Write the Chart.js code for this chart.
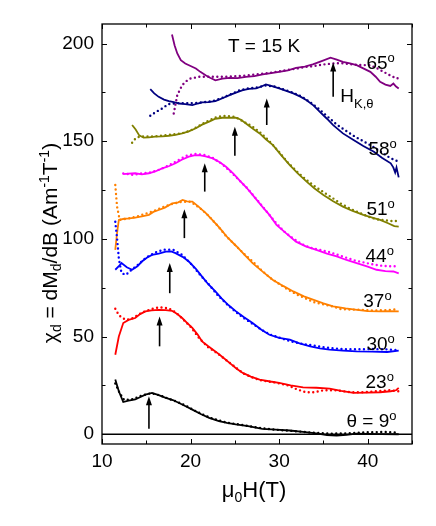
<!DOCTYPE html>
<html><head><meta charset="utf-8">
<script src="https://cdn.jsdelivr.net/npm/chart.js@4"></script>
<style>html,body{margin:0;padding:0;background:#fff;}canvas{display:block;}</style>
</head><body>
<canvas id="c" width="436" height="526"></canvas>
<script>
// ---------- data (field in T, chi in A m^-1 T^-1) ----------
const angles = ['9', '23', '30', '37', '44', '51', '58', '65'];
const colors = ['#000000', '#ff0000', '#0000ff', '#ff8000', '#ff00ff', '#808000', '#000080', '#800080'];

// measured (solid)
const h9 = [11.5,11.9,12.4,13.0,13.75,14.4,14.9,15.65,16.4,17.2,18.0,18.7,19.5,20.2,21.2,22.1,23.2,24.1,25.1,26.5,28.1,29.6,31.2,32.7,34.2,35.4,36.5,37.6,38.75,40.0,41.5,43.5];
const chi9 = [28,22,16.5,17.2,17.8,19.2,20.3,21.2,20,18.6,17.5,16,14.2,12.6,10.2,8.4,6.7,5.8,5,4.2,2.7,2.4,1.9,1.2,0.4,-0.4,-0.7,-0.3,0.3,0.2,0.1,0];
const h23 = [11.5,11.9,12.4,13.0,13.75,14.3,14.9,15.6,16.4,17.2,17.9,18.5,19.05,19.6,20.2,20.8,21.3,22.0,22.8,23.6,24.4,25.2,25.9,26.8,27.8,29.0,30.0,31.3,32.7,34.2,35.7,37.0,38.4,40.0,41.4,42.6,43.2,43.5];
const chi23 = [40.7,50,56.9,58.5,59.5,61.5,62.9,63.4,63.7,63.5,63.2,61.5,59.5,57,54.4,51,47.5,45,42.4,39.5,36.5,33.5,31.4,29.5,28,27,26.3,25,24,23.8,23.4,22.2,21.2,21.3,21.5,22,22.5,23.7];
const h30 = [11.5,11.9,12.2,12.8,13.4,14.0,14.5,15.1,15.65,16.4,17.2,17.8,18.3,19.1,19.8,20.6,21.3,22.0,22.8,23.5,24.3,25.1,26.0,27.0,28.0,28.9,30.0,31.2,32.3,33.5,34.6,35.7,37.2,38.75,40.5,42.2,43.5];
const chi30 = [84.2,86,87.6,85.5,84.2,86,88.4,90.5,91.8,92.5,93.5,93.6,92.7,90.8,88.4,84.6,80.7,76.8,73.1,69.5,66,63,60,56.9,53.5,50.9,49.3,48.4,46.5,45,44,43.3,42.8,42.4,42.3,42.1,42.8];
const h37 = [11.5,11.7,11.9,12.5,13.1,13.75,14.5,15.3,15.8,16.4,17.1,17.95,18.6,19.1,19.6,20.2,20.9,21.75,22.5,23.3,24.2,25.2,26.1,27.0,28.2,29.3,30.5,31.6,32.8,33.9,35.0,36.1,37.5,38.8,40.0,41.4,42.5,43.5];
const chi37 = [94.4,103,109.7,110.3,110.5,110.9,111.5,112.3,113.8,114.8,116,118.2,118.7,119.9,119.2,119.1,116.5,113.1,109.5,105.5,100.6,96.1,91.8,87.6,83,79,75.8,73.1,70.6,68.8,67,65.4,64.4,63.7,63,62.9,63,62.9];
const h44 = [12.4,13.0,13.75,14.5,15.3,16.0,16.8,17.6,18.3,19.0,19.8,20.4,20.95,21.7,22.5,23.3,24.0,24.8,25.5,26.3,27.0,28.0,28.9,29.7,30.8,31.9,33.0,34.2,35.4,36.5,37.6,38.75,40.0,41.0,42.0,42.9,43.5];
const chi44 = [133.1,133.4,133.6,133,133.6,134.5,136.1,137.3,138.7,140.5,142.1,142.8,142.9,142.2,141.2,139.2,136.9,133.5,130.1,126.3,122.5,117,112.3,107.2,102.8,98.6,96.2,94.4,92.5,91,89.2,87.6,85.8,84.2,83.5,83.3,82.3];
const h51 = [13.4,13.8,14.2,14.7,15.3,16.0,16.8,17.55,18.3,19.05,19.8,20.6,21.3,22.1,22.8,23.6,24.4,25.1,25.7,26.25,27.0,27.8,28.5,29.3,30.2,31.2,32.1,33.1,34.0,35.0,36.1,37.2,38.3,39.5,40.6,41.4,42.3,43.0,43.5];
const chi51 = [158.3,156,153,151.8,152,152.3,152.5,152.8,153.2,154,155,156.6,158.5,160,161.5,162,162,162,161,159.1,156.5,154,151,148,143,137.8,133.5,129.3,125.8,122.5,119.3,116.5,114.3,112.3,110.8,109.7,108,106.5,106.3];
const h58 = [15.45,15.9,16.4,17.0,17.55,18.1,18.7,19.4,20.2,20.8,21.3,22.0,22.8,23.6,24.4,25.2,25.9,26.6,27.4,28.0,28.5,29.2,30.0,30.8,31.6,32.4,33.1,33.9,34.6,35.4,36.1,37.2,38.4,39.5,40.7,41.6,42.6,42.9,43.1,43.25,43.5];
const chi58 = [176.6,174.5,172.7,171.3,170.5,170,169.3,169,168.5,169.3,169.9,170,170.5,172,173.6,175,176.1,176.8,177,178,179.1,178.2,177,175.8,174.5,172.8,171,168.2,165,161.5,158.2,154,150.6,147.5,144.6,141.5,138.7,136.5,134,136.5,131.5];
const h65 = [17.9,18.2,18.5,18.9,19.4,20.0,20.6,21.1,21.7,22.2,22.8,23.6,24.4,25.3,26.25,27.2,28.15,29.1,30.0,31.0,31.9,32.9,33.8,34.8,35.8,36.5,37.2,38.0,38.75,39.5,40.3,40.9,41.4,42.0,42.55,42.9,43.2,43.5];
const chi65 = [204.6,199,194.9,191.5,189.8,188.5,187.2,185.5,183.8,182.5,181.2,182,182.4,182.3,182.9,183.3,184.2,184.8,185.5,186.3,187.5,188.2,189.3,191,192.8,191.8,190.6,189.8,188.9,187.3,185.5,183,180.4,179,178.3,179.5,178,177];

// simulation (dotted)
const h9s = [11.5,12.0,12.5,13.5,14.5,15.5,16.5,17.5,18.5,19.5,20.5,21.5,22.5,24,25.5,27,28.5,30,32,34,36,38,40,42,43.5];
const chi9s = [26,21,17.5,18,19.8,21,20,18.2,16.6,14.5,12,9.8,8,6,5,3.8,2.8,2.2,1.5,0.7,0.3,0.5,1,1.2,0.8];
const h23s = [11.5,11.9,12.3,12.8,13.5,14.5,15.5,16.5,17.5,18.3,19.0,20,21,22,23,24,25,26,27,28,29.5,31,32,33,34,35,36.5,38,39.5,41,42.5,43.5];
const chi23s = [64.2,61,59.5,58.5,59.5,62.3,64,65,64.5,62.5,59.5,55,49,44.5,41.5,38,34.5,31,29,27.5,26.5,25,23,21.5,21.5,22.5,22.5,21.5,21.5,22,22.5,22];
const h30s = [11.5,11.7,11.9,12.2,12.7,13.3,14,15,16,17,18,19,20,21,22,23,24,25,26,27,28,29,30,31,32,33,34,35,36,37.5,39,40.5,42,43.5];
const chi30s = [108.8,100.4,90,82.5,81.6,84,86.5,90.5,93,94.5,94.5,92,87.5,82,77,71.5,67,63,59.5,56.5,53.5,51,49.5,48,46.8,46,45.3,44.5,44,43.5,43.5,43.6,43.5,43];
const h37s = [11.5,11.7,12.0,13,14,15,16,17,18,19,20,21,22,23,24,25,26,27,28,29,30,31,32,33,34,35,36,37,38,39,40.5,42,43.5];
const chi37s = [127.6,116.5,109.7,110.5,111.5,113,114.5,116.5,118,119,119,116,112,107,101.5,97,92.5,88.5,84,80,77,74,71.5,69.5,67.5,66.5,65.5,64,63.8,63.8,63.3,63.5,64];
const h44s = [12.4,13.5,14.5,15.5,16.5,17.5,18.5,19.5,20.5,21.5,22.5,23.5,24.5,25.5,26.5,27.5,28.5,29.5,30.5,31.5,32.5,33.5,34.5,35.5,36.5,37.5,38.5,39.5,40.5,41.5,42.5,43.5];
const chi44s = [133.5,132.8,133.5,134,135.5,137.5,140,142.5,143.5,143,141.5,138.5,134.5,130,125.5,120,114.5,109,104,100.5,97.5,95.5,94.5,93.5,92,90.5,89,88,87,86.3,86,86];
const h51s = [13.4,13.8,14.3,15,16,17,18,19,20,21,22,23,24,25,26,27,28,29,30,31,32,33,34,35,36,37,38,39,40,41,42,43,43.5];
const chi51s = [149.2,151.5,152.5,152.5,152.5,153,153.5,154,155.5,158,160.5,162.5,163,162.5,160,157.5,154,149.5,144.5,139,134.5,130.5,127,124,121,118,115.5,113.5,111.5,110,109.5,109,109.5];
const h58s = [15.45,16.1,16.8,17.5,18.5,19.5,20.5,21.5,22.5,23.5,24.5,25.5,26.5,27.5,28.5,29.5,30.5,31.5,32.5,33.5,34.5,35.5,36.5,37.5,38.5,39.5,40.5,41.5,42.5,43.5];
const chi58s = [163,165,166.8,169,169.5,169.5,169.5,170,170.5,172,174,176,177,177.5,178.5,178,176.5,175,173,170,166.5,162.5,158.5,155.5,152.5,150,147.5,144.5,141.5,139.5];
const h65s = [18.1,18.5,19.05,19.5,20.0,21,22,23,24,25,26,27,28,29,30,31,32,33,34,35,36.1,37,38,39,40.3,41.0,41.8,42.6,43.3,43.5];
const chi65s = [164.2,173.6,178.7,180.7,182.1,183,183,183,183,183.3,183.5,184,184.5,185,185.8,186.5,187.2,188,188.5,189.3,189.8,190,189.5,189,188.9,187.5,185.5,183.5,182.1,182.5];

// H_K,theta arrows (field, arrow foot, arrow tip)
const arrowH    = [15.3, 16.5, 17.65, 19.3, 21.6, 25.0, 28.6, 36.1];
const arrowFoot = [2.8, 45, 72.2, 100.4, 124.2, 142.6, 158.3, 172.7];
const arrowTip  = [19.4, 60.3, 87.6, 115.2, 138.7, 157.4, 171.9, 190.3];

// tick settings
const xMin = 10, xMax = 45, xStep = 10;
const yMin = -5, yMax = 210, yStep = 50;

const measured = [[h9,chi9],[h23,chi23],[h30,chi30],[h37,chi37],[h44,chi44],[h51,chi51],[h58,chi58],[h65,chi65]];
const simulated = [[h9s,chi9s],[h23s,chi23s],[h30s,chi30s],[h37s,chi37s],[h44s,chi44s],[h51s,chi51s],[h58s,chi58s],[h65s,chi65s]];

// label anchors in data units (left edge, baseline)
const labelAt = [[37.6,3.9],[39.75,23.9],[39.85,43.3],[39.5,65.3],[39.75,88.2],[39.85,112.3],[40.08,143.0],[39.85,186.9]];

const F = '"Liberation Sans", Arial, Helvetica, sans-serif';
const pts = (xs, ys) => xs.map((x, i) => ({x: x, y: ys[i]}));

const datasets = [];
simulated.forEach((s, i) => datasets.push({
  data: pts(s[0], s[1]), borderColor: colors[i], borderWidth: 2.4,
  borderDash: [0, 4.5], borderCapStyle: 'round', pointRadius: 0, showLine: true, tension: 0
}));
measured.forEach((s, i) => datasets.push({
  data: pts(s[0], s[1]), borderColor: colors[i], borderWidth: 1.8,
  pointRadius: 0, showLine: true, tension: 0
}));

function rich(ctx, segs, x, y, align) {
  let w = 0;
  segs.forEach(s => { ctx.font = s[1] + 'px ' + F; s.w = ctx.measureText(s[0]).width; w += s.w; });
  let cx = align === 'center' ? x - w / 2 : (align === 'right' ? x - w : x);
  ctx.textAlign = 'left'; ctx.textBaseline = 'alphabetic';
  segs.forEach(s => { ctx.font = s[1] + 'px ' + F; ctx.fillText(s[0], cx, y + s[2]); cx += s.w; });
}

const decor = {
  id: 'decor',
  beforeDatasetsDraw(chart) {
    const {ctx, chartArea: a, scales: {x, y}} = chart;
    ctx.save();
    ctx.strokeStyle = '#000'; ctx.lineWidth = 1.5;
    const y0 = y.getPixelForValue(0);
    ctx.beginPath(); ctx.moveTo(a.left, y0); ctx.lineTo(a.right, y0); ctx.stroke();
    ctx.restore();
  },
  afterDatasetsDraw(chart) {
    const {ctx, chartArea: a, scales: {x, y}} = chart;
    ctx.save();
    ctx.strokeStyle = '#000'; ctx.fillStyle = '#000';
    ctx.lineWidth = 1.3;
    ctx.strokeRect(a.left, a.top, a.right - a.left, a.bottom - a.top);
    ctx.lineWidth = 1;
    ctx.beginPath();
    for (let v = xMin; v < xMax + 1e-9; v += xStep / 2) {
      const px = Math.round(x.getPixelForValue(v)) + 0.5;
      const L = (Math.abs(v % xStep) < 1e-9) ? 5 : 3.5;
      ctx.moveTo(px, a.bottom); ctx.lineTo(px, a.bottom - L);
      ctx.moveTo(px, a.top); ctx.lineTo(px, a.top + L);
    }
    for (let v = 0; v < yMax + 1e-9; v += yStep / 2) {
      const py = Math.round(y.getPixelForValue(v)) + 0.5;
      const L = (Math.abs(v % yStep) < 1e-9) ? 5 : 3.5;
      ctx.moveTo(a.left, py); ctx.lineTo(a.left + L, py);
      ctx.moveTo(a.right, py); ctx.lineTo(a.right - L, py);
    }
    ctx.stroke();
    ctx.lineWidth = 1.6;
    arrowH.forEach((h, i) => {
      const px = x.getPixelForValue(h);
      const pf = y.getPixelForValue(arrowFoot[i]);
      const pt = y.getPixelForValue(arrowTip[i]);
      ctx.beginPath(); ctx.moveTo(px, pf); ctx.lineTo(px, pt + 6); ctx.stroke();
      ctx.beginPath(); ctx.moveTo(px, pt); ctx.lineTo(px - 3, pt + 9); ctx.lineTo(px + 3, pt + 9); ctx.closePath(); ctx.fill();
    });
    angles.forEach((t, i) => {
      const lx = x.getPixelForValue(labelAt[i][0]);
      const ly = y.getPixelForValue(labelAt[i][1]);
      const main = i === 0 ? '\u03b8 = ' + t : t;
      rich(ctx, [[main, 19, 0], ['o', 13, -7]], lx, ly, 'left');
    });
    rich(ctx, [['T = 15 K', 19, 0]], x.getPixelForValue(28.3), y.getPixelForValue(195.5), 'center');
    rich(ctx, [['H', 19, 0], ['K,\u03b8', 13, 6]], x.getPixelForValue(36.9), y.getPixelForValue(170.0), 'left');
    rich(ctx, [['\u03bc', 22, 0], ['0', 14, 5], ['H(T)', 22, 0]], (a.left + a.right) / 2 - 3, 497, 'center');
    ctx.translate(57, (a.top + a.bottom) / 2 + 9);
    ctx.rotate(-Math.PI / 2);
    rich(ctx, [['\u03c7', 21, 0], ['d', 14, 4], [' = dM', 21, 0], ['d', 14, 4], ['/dB (Am', 21, 0], ['-1', 14, -8], ['T', 21, 0], ['-1', 14, -8], [')', 21, 0]], 0, 0, 'center');
    ctx.restore();
  }
};

new Chart(document.getElementById('c'), {
  type: 'scatter',
  data: {datasets: datasets},
  options: {
    responsive: false, animation: false, devicePixelRatio: 1, events: [],
    layout: {padding: {top: 24, right: 24, left: 0, bottom: 0}},
    plugins: {legend: {display: false}, tooltip: {enabled: false}},
    scales: {
      x: {
        type: 'linear', position: 'bottom', min: xMin, max: xMax,
        grid: {display: false, drawTicks: false}, border: {display: false},
        ticks: {stepSize: xStep, includeBounds: false, padding: 6, color: '#000', font: {family: F, size: 19}},
        afterFit: s => { s.height = 82; }
      },
      y: {
        type: 'linear', position: 'left', min: yMin, max: yMax,
        grid: {display: false, drawTicks: false}, border: {display: false},
        ticks: {stepSize: yStep, includeBounds: false, padding: 8, color: '#000', font: {family: F, size: 19}},
        afterFit: s => { s.width = 102; }
      }
    }
  },
  plugins: [decor]
});
</script>
</body></html>
